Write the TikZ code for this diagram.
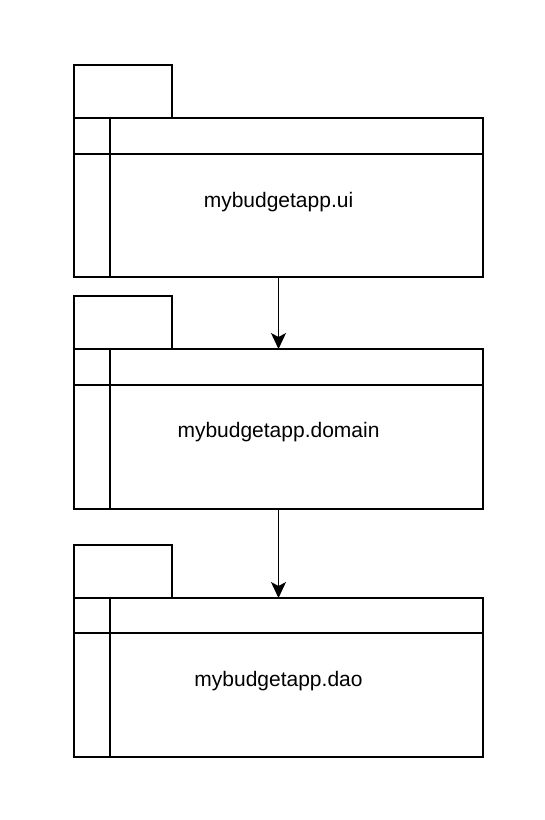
\documentclass[tikz,border=0pt]{standalone}
\usepackage{fontspec}
\setmainfont{Liberation Sans}
\usetikzlibrary{arrows.meta}
\tikzset{
  x=1pt, y=-1pt,
  ln/.style={line width=1.2pt, black},
  pkgbody/.style={ln, draw, fill=white, anchor=north west, inner sep=0pt, outer sep=0pt, minimum width=409pt, minimum height=159pt},
  pkgtab/.style={ln, draw, fill=white, anchor=south west, inner sep=0pt, outer sep=0pt, minimum width=98pt, minimum height=53pt},
  pkglabel/.style={anchor=base, inner sep=0pt, font=\fontsize{21}{25}\selectfont},
  dep/.style={ln, -{Stealth[length=16pt, width=15pt, inset=4pt]}}
}
\begin{document}
\begin{tikzpicture}
\useasboundingbox (0,0) rectangle (544,820);
% package 1
\node[pkgbody] (b1) at (74,118) {};
\node[pkgtab] (t1) at (b1.north west) {};
\draw[ln] ([xshift=36pt]b1.north west) -- ([xshift=36pt]b1.south west);
\draw[ln] ([yshift=-36pt]b1.north west) -- ([yshift=-36pt]b1.north east);
\node[pkglabel] (l1) at (278.5,207) {mybudgetapp.ui};
% package 2
\node[pkgbody, minimum height=160pt] (b2) at (74,349) {};
\node[pkgtab] (t2) at (b2.north west) {};
\draw[ln] ([xshift=36pt]b2.north west) -- ([xshift=36pt]b2.south west);
\draw[ln] ([yshift=-36pt]b2.north west) -- ([yshift=-36pt]b2.north east);
\node[pkglabel] (l2) at (278.5,437) {mybudgetapp.domain};
% package 3
\node[pkgbody] (b3) at (74,598) {};
\node[pkgtab] (t3) at (b3.north west) {};
\draw[ln] ([xshift=36pt]b3.north west) -- ([xshift=36pt]b3.south west);
\draw[ln] ([yshift=-35pt]b3.north west) -- ([yshift=-35pt]b3.north east);
\node[pkglabel] (l3) at (278.5,686) {mybudgetapp.dao};
% dependencies
\draw[dep] (b1.south) -- (b2.north);
\draw[dep] (b2.south) -- (b3.north);
\end{tikzpicture}
\end{document}
